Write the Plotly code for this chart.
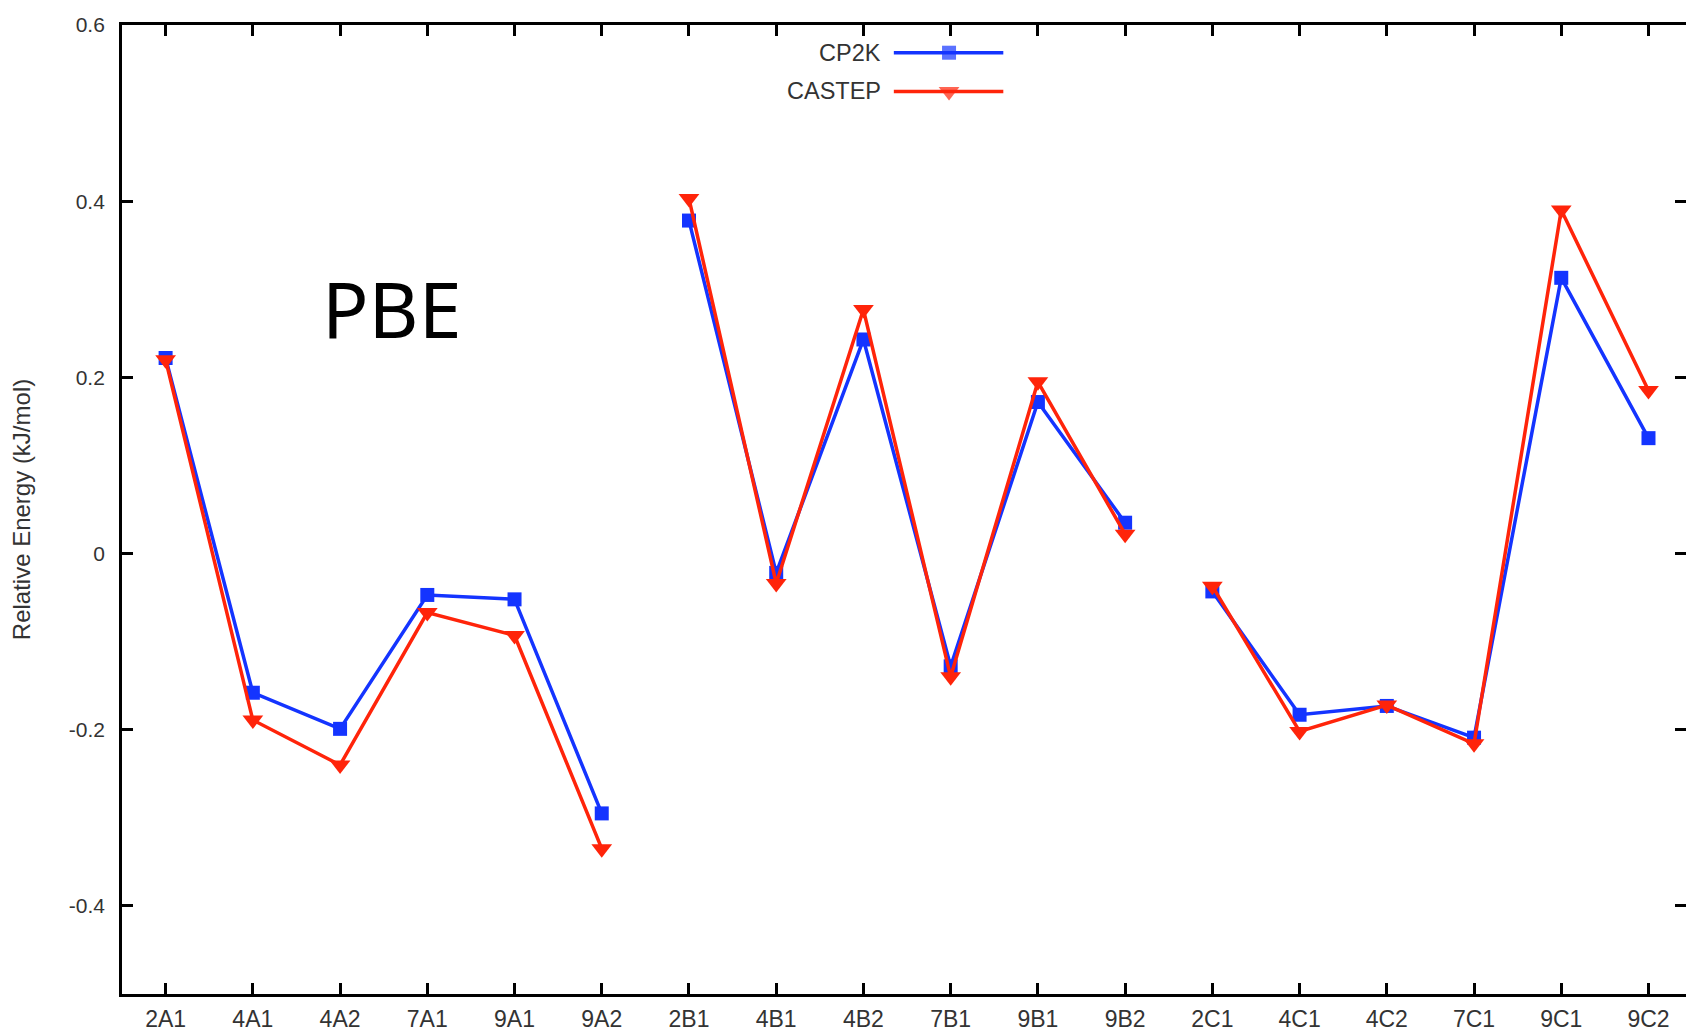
import plotly.graph_objects as go

# Structures along the x axis; the letter in each name marks its family
structures = ["2A1", "4A1", "4A2", "7A1", "9A1", "9A2",
              "2B1", "4B1", "4B2", "7B1", "9B1", "9B2",
              "2C1", "4C1", "4C2", "7C1", "9C1", "9C2"]

# Relative energies (kJ/mol)
cp2k = [0.222, -0.158, -0.199, -0.047, -0.052, -0.295,
        0.378, -0.022, 0.243, -0.128, 0.172, 0.035,
        -0.043, -0.183, -0.173, -0.209, 0.313, 0.131]
castep = [0.220, -0.189, -0.240, -0.067, -0.093, -0.335,
          0.403, -0.034, 0.277, -0.140, 0.195, 0.022,
          -0.037, -0.202, -0.172, -0.216, 0.390, 0.185]

y_ticks = [-0.4, -0.2, 0, 0.2, 0.4, 0.6]
y_tick_text = ["-0.4", "-0.2", "0", "0.2", "0.4", "0.6"]

BLUE = "#1434ff"
RED = "#ff240a"
TEXT = "#333333"
FONT = "Liberation Sans, Arial, sans-serif"

series = [
    ("CP2K", cp2k, BLUE, "square", 14),
    ("CASTEP", castep, RED, "triangle-down", 18),
]

# each family (A, B, C) is drawn as its own unconnected segment
families = []
for name in structures:
    fam = name[1]
    if fam not in families:
        families.append(fam)

fig = go.Figure()
for label, values, color, symbol, size in series:
    for fam in families:
        idx = [i for i, n in enumerate(structures) if n[1] == fam]
        fig.add_trace(go.Scatter(
            x=[structures[i] for i in idx],
            y=[values[i] for i in idx],
            mode="lines+markers",
            name=label,
            showlegend=False,
            line=dict(color=color, width=3.5),
            marker=dict(symbol=symbol, size=size, color=color, line=dict(width=0)),
        ))

# key: label on the left, sample line with its symbol on the right
key_x = [0.4935, 0.5288, 0.5635]
key_y = [0.9714, 0.9315]
for (label, values, color, symbol, size), ky in zip(series, key_y):
    fig.add_trace(go.Scatter(
        x=key_x, y=[ky] * 3, xaxis="x3", yaxis="y3",
        mode="lines+markers", showlegend=False, hoverinfo="skip",
        line=dict(color=color, width=3.5),
        marker=dict(symbol=symbol, size=[0, size, 0], color=color, line=dict(width=0)),
    ))
    fig.add_annotation(
        x=0.4865, y=ky, xref="paper", yref="paper", text=label,
        showarrow=False, xanchor="right", yanchor="middle",
        font=dict(family=FONT, size=23.5, color=TEXT),
    )

fig.add_annotation(
    x=0.1721, y=0.7073, xref="paper", yref="paper", text="PBE",
    showarrow=False, xanchor="center", yanchor="middle",
    font=dict(family="Noto Sans, Open Sans, sans-serif", size=77, color="black"),
)

axis_common = dict(
    showline=True, linecolor="black", linewidth=2.8,
    ticks="inside", ticklen=11, tickwidth=2.5, tickcolor="black",
    showgrid=False, zeroline=False, automargin=False,
)

fig.update_layout(
    template="none",
    width=1686, height=1030,
    margin=dict(l=122, r=0, t=25, b=36),
    paper_bgcolor="white", plot_bgcolor="white",
    showlegend=False,
    xaxis=dict(
        type="category", categoryorder="array", categoryarray=structures,
        range=[-0.5, 17.43], mirror="ticks", ticklabelstandoff=2,
        tickfont=dict(family=FONT, size=23, color=TEXT),
        **axis_common,
    ),
    yaxis=dict(
        range=[-0.5, 0.6], tickvals=y_ticks, ticktext=y_tick_text,
        ticklabelstandoff=10,
        tickfont=dict(family=FONT, size=21, color=TEXT),
        title=dict(text="Relative Energy (kJ/mol)", standoff=32,
                   font=dict(family=FONT, size=24, color=TEXT)),
        **axis_common,
    ),
    yaxis2=dict(
        overlaying="y", side="right", anchor="x", matches="y",
        tickvals=y_ticks, showticklabels=False, showline=False,
        ticks="inside", ticklen=11, tickwidth=2.5, tickcolor="black",
        showgrid=False, zeroline=False, automargin=False,
    ),
    xaxis3=dict(domain=[0, 1], range=[0, 1], visible=False, anchor="y3", overlaying="x"),
    yaxis3=dict(domain=[0, 1], range=[0, 1], visible=False, anchor="x3", overlaying="y"),
)

# an empty trace bound to the right-hand axis so its ticks are drawn
fig.add_trace(go.Scatter(x=[], y=[], yaxis="y2", showlegend=False))

fig.write_html("out.html")
